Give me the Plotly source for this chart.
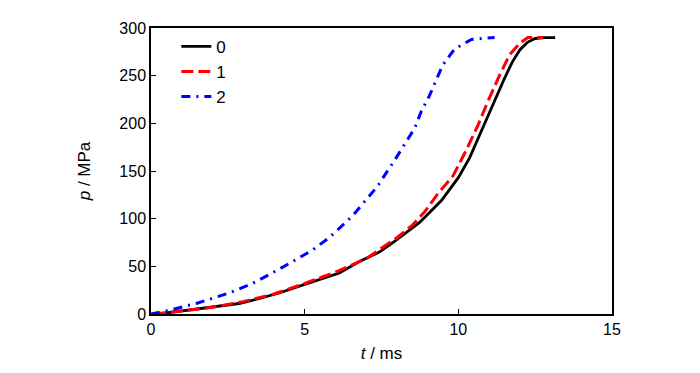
import plotly.graph_objects as go

# Series 0 (black, solid)
t0 = [0.25, 1.24, 2.0, 2.87, 3.5, 4.17, 5.0, 6.13, 6.78, 7.43, 7.87, 8.74, 9.45,
      10.0, 10.37, 10.96, 11.5, 11.75, 12.0, 12.25, 12.5, 12.8, 13.15]
p0 = [0, 4, 7, 11, 16, 22, 31, 43, 55, 65, 75, 96, 119,
      143, 164, 208, 247, 264, 277, 285, 289, 290, 290]

# Series 1 (red, dashed)
t1 = [0.1, 1.0, 2.0, 3.0, 4.0, 5.0, 6.0, 7.0, 8.0, 8.5, 8.9, 9.33, 9.83, 10.26,
      10.64, 10.96, 11.35, 11.67, 12.0, 12.26, 12.75]
p1 = [0, 3, 7, 13, 21, 32, 44, 58, 80, 93, 107, 126, 145, 172,
      198, 223, 251, 272, 284, 290, 290]

# Series 2 (blue, dash-dot)
t2 = [0.0, 0.6, 1.47, 2.54, 3.3, 4.17, 5.25, 5.8, 6.56, 7.37, 7.98, 8.58, 8.8,
      9.06, 9.49, 9.88, 10.43, 11.18]
p2 = [0, 4, 11, 22, 32, 47, 67, 80, 103, 134, 164, 195, 213,
      229, 261, 278, 288, 290]

x_ticks = [0, 5, 10, 15]
y_ticks = [0, 50, 100, 150, 200, 250, 300]

fig = go.Figure()
fig.add_trace(go.Scatter(x=t0, y=p0, mode="lines", name="0",
                         line=dict(color="black", width=2.8)))
fig.add_trace(go.Scatter(x=t1, y=p1, mode="lines", name="1",
                         line=dict(color="#ff0000", width=3, dash="12px,5px")))
fig.add_trace(go.Scatter(x=t2, y=p2, mode="lines", name="2",
                         line=dict(color="#0000ff", width=3, dash="9px,6px,2px,6px")))

font_family = "Liberation Sans, Arial, sans-serif"
fig.update_layout(
    width=700, height=373,
    margin=dict(l=143, r=96, t=12, b=67),
    plot_bgcolor="white", paper_bgcolor="white",
    font=dict(family=font_family, size=16, color="black"),
    showlegend=True,
    legend=dict(x=0.055, y=0.997, xanchor="left", yanchor="top",
                bgcolor="rgba(0,0,0,0)", font=dict(size=17), tracegroupgap=0),
    xaxis=dict(range=[0, 15], tickvals=x_ticks, ticktext=[str(v) for v in x_ticks],
               showgrid=False, zeroline=False, showline=True, linecolor="black",
               linewidth=1.5, mirror=True, ticks="inside", ticklen=5, tickcolor="black",
               title=dict(text="<i>t</i> / ms", standoff=10, font=dict(size=17))),
    yaxis=dict(range=[0, 300], tickvals=y_ticks, ticktext=[str(v) for v in y_ticks],
               showgrid=False, zeroline=False, showline=True, linecolor="black",
               linewidth=1.5, mirror=True, ticks="inside", ticklen=5, tickcolor="black",
               title=dict(text="<i>p</i> / MPa", standoff=24, font=dict(size=17))),
)

fig.write_html("out.html")
